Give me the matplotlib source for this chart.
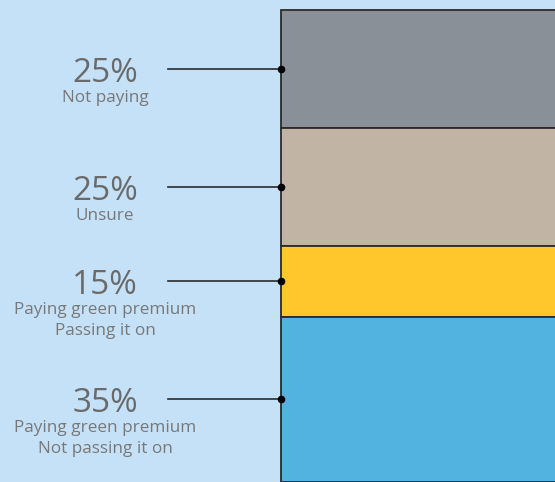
import numpy as np
import matplotlib.pyplot as plt
from matplotlib.transforms import offset_copy

plt.rcParams['font.family'] = ['Open Sans', 'DejaVu Sans']

# stacked shares, top to bottom
values = [25, 25, 15, 35]
pct_labels = ['25%', '25%', '15%', '35%']
descriptions = ['Not paying',
                'Unsure',
                'Paying green premium\nPassing it on',
                'Paying green premium\nNot passing it on']
colors = ['#899098', '#C2B4A5', '#FFC72C', '#52B3E0']

bg = '#C5E1F7'
pct_color = '#6A6A6A'
desc_color = '#787878'
line_color = '#2B2B2B'

fig = plt.figure(figsize=(5.55, 4.82), dpi=100)
fig.patch.set_facecolor(bg)
ax = fig.add_axes([0, 0, 1, 1])
ax.set_facecolor(bg)
ax.set_xlim(0, 555)
ax.set_ylim(100, -2.12)
ax.set_axis_off()

bar_left = 281
bottoms = np.concatenate([[0], np.cumsum(values)[:-1]])
ax.bar(bar_left, values, width=400, bottom=bottoms, align='edge',
       color=colors, edgecolor=line_color, linewidth=1.3, zorder=2)

mids = bottoms + np.array(values) / 2
for mid, pct, desc in zip(mids, pct_labels, descriptions):
    ax.plot([168, bar_left], [mid, mid], color=line_color, lw=1.2, zorder=3)
    ax.plot(bar_left, mid, 'o', color='black', ms=4.5, zorder=4)
    t_pct = offset_copy(ax.transData, fig=fig, y=-13, units='dots')
    ax.text(105, mid, pct, transform=t_pct, ha='center', va='baseline',
            fontsize=24, color=pct_color)
    t_desc = offset_copy(ax.transData, fig=fig, y=-21, units='dots')
    ax.text(105, mid, desc, transform=t_desc, ha='center', va='top',
            fontsize=12.3, color=desc_color, linespacing=1.4)

fig.savefig('out.png', dpi=100, facecolor=bg)
